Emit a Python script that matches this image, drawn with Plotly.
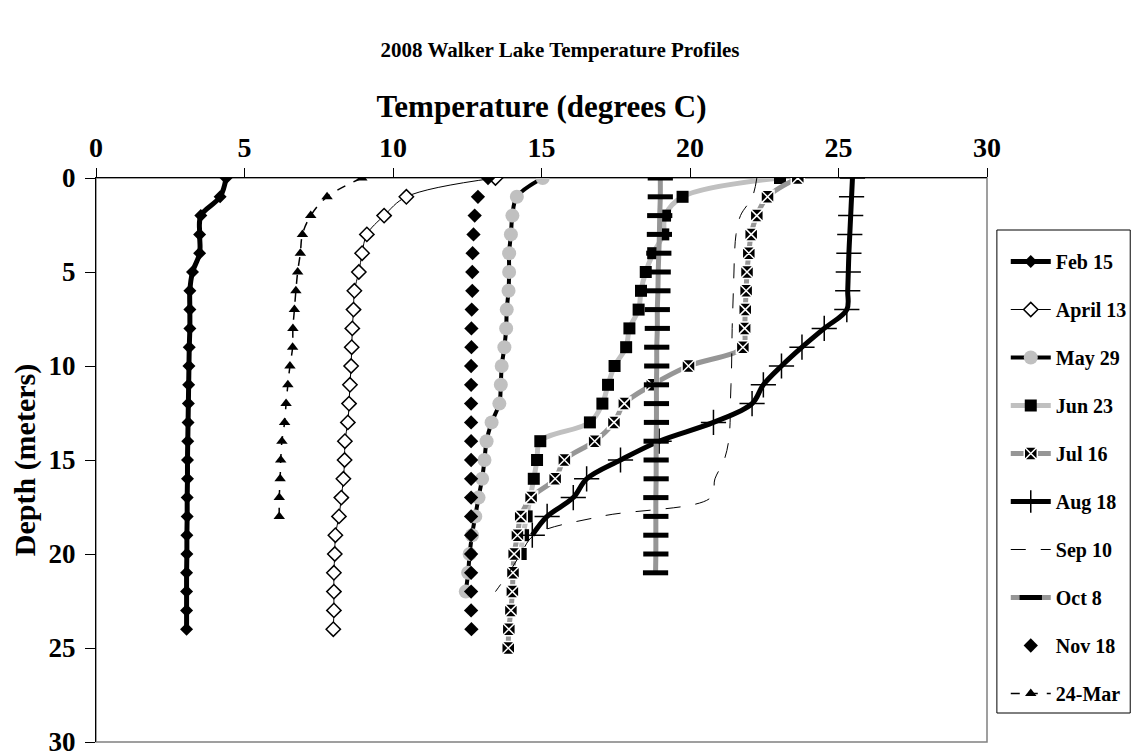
import plotly.graph_objects as go

# Depth (m) for each measurement row
DEPTHS = [0, 1, 2, 3, 4, 5, 6, 7, 8, 9, 10, 11, 12, 13, 14, 15, 16, 17, 18, 19, 20, 21, 22, 23, 24, 25]

# Temperatures (deg C) per sampling date, from surface downward
feb15 = [4.38, 4.18, 3.53, 3.49, 3.49, 3.25, 3.16, 3.16, 3.16, 3.14, 3.13, 3.12, 3.11,
         3.10, 3.09, 3.08, 3.08, 3.07, 3.07, 3.06, 3.06, 3.05, 3.05, 3.05, 3.05]
apr13 = [13.45, 10.45, 9.70, 9.12, 8.96, 8.85, 8.70, 8.67, 8.63, 8.61, 8.59, 8.55, 8.52,
         8.48, 8.38, 8.37, 8.33, 8.26, 8.18, 8.06, 8.04, 8.01, 8.01, 8.01, 7.99]
may29 = [15.04, 14.17, 14.02, 13.97, 13.91, 13.91, 13.89, 13.83, 13.81, 13.75, 13.66, 13.63,
         13.58, 13.32, 13.15, 13.08, 13.00, 12.88, 12.77, 12.66, 12.58, 12.53, 12.45]
jun23 = [23.03, 19.75, 19.16, 19.10, 18.76, 18.51, 18.35, 18.27, 17.96, 17.85, 17.46, 17.24,
         17.05, 16.63, 14.96, 14.85, 14.74, 14.62, 14.50, 14.38, 14.30]
jul16 = [23.63, 22.61, 22.25, 22.06, 21.98, 21.92, 21.89, 21.86, 21.84, 21.78, 19.95, 18.73,
         17.79, 17.44, 16.79, 15.77, 15.46, 14.65, 14.30, 14.19, 14.08, 14.04, 14.02, 13.97,
         13.90, 13.88]
aug18 = [25.47, 25.44, 25.41, 25.38, 25.35, 25.33, 25.31, 25.28, 24.52, 23.77, 23.08, 22.47,
         22.09, 20.79, 18.96, 17.66, 16.52, 16.07, 15.19, 14.69]
sep10 = [22.25, 22.10, 21.70, 21.55, 21.50, 21.48, 21.46, 21.44, 21.42, 21.41, 21.40, 21.38,
         21.36, 21.35, 21.30, 21.15, 20.84, 20.70, 17.00, 14.75, 14.30, 13.90, 13.45]
oct8 = [19.00, 19.00, 18.98, 18.97, 18.95, 18.93, 18.92, 18.90, 18.90, 18.88, 18.88, 18.87,
        18.87, 18.87, 18.86, 18.86, 18.86, 18.85, 18.85, 18.85, 18.85, 18.84]
nov18 = [13.20, 12.86, 12.75, 12.71, 12.68, 12.67, 12.67, 12.65, 12.64, 12.64, 12.63, 12.63,
         12.63, 12.63, 12.63, 12.63, 12.63, 12.63, 12.63, 12.63, 12.63, 12.63, 12.63, 12.63, 12.64]
mar24 = [8.95, 7.78, 7.23, 6.95, 6.88, 6.79, 6.73, 6.68, 6.63, 6.62, 6.53, 6.46, 6.40, 6.35,
         6.26, 6.22, 6.20, 6.17, 6.17]

FONT = "Liberation Serif, Times New Roman, serif"
LIGHT = "#c0c0c0"
MID = "#969696"

# the page body adds an 8px offset, so the figure is sized to the remaining viewport
W, H = 1136, 748
PLOT_L, PLOT_R, PLOT_T, PLOT_B = 88, 990, 170, 734
plot_h = PLOT_B - PLOT_T
plot_w = PLOT_R - PLOT_L


def px(xp):
    return (xp - PLOT_L) / plot_w


def py(yp):
    return (PLOT_B - yp) / plot_h


fig = go.Figure()


def add(name, temps, mode, line=None, marker=None, shape="spline"):
    kw = dict(x=temps, y=DEPTHS[:len(temps)], name=name, mode=mode, legendgroup=name)
    if line is not None:
        line = dict(line, shape=shape)
        kw["line"] = line
    if marker is not None:
        kw["marker"] = marker
    fig.add_trace(go.Scatter(**kw))


add("Feb 15", feb15, "lines+markers",
    line=dict(color="black", width=5),
    marker=dict(symbol="diamond", size=10, color="black"))
add("April 13", apr13, "lines+markers",
    line=dict(color="black", width=1),
    marker=dict(symbol="diamond", size=11, color="white", line=dict(color="black", width=1.5)))
add("May 29", may29, "lines+markers",
    line=dict(color="black", width=4),
    marker=dict(symbol="circle", size=14, color=LIGHT))
add("Jun 23", jun23, "lines+markers",
    line=dict(color=LIGHT, width=5),
    marker=dict(symbol="square", size=12, color="black"))
add("Jul 16", jul16, "lines+markers",
    line=dict(color=MID, width=5),
    marker=dict(symbol="square-x", size=13, color="black", line=dict(color="white", width=1.5)))
add("Aug 18", aug18, "lines+markers",
    line=dict(color="black", width=5),
    marker=dict(symbol="cross-thin", size=18, color="black", line=dict(color="black", width=1.5)))
add("Sep 10", sep10, "lines",
    line=dict(color="black", width=1, dash="longdash"))
add("Oct 8", oct8, "lines+markers",
    line=dict(color=MID, width=5),
    marker=dict(symbol="line-ew", size=18, color="black", line=dict(color="black", width=5)))
add("Nov 18", nov18, "markers",
    marker=dict(symbol="diamond", size=11, color="black"))
add("24-Mar", mar24, "lines+markers",
    line=dict(color="black", width=1.5, dash="dash"),
    marker=dict(symbol="triangle-up", size=10, color="black"))

fig.update_layout(
    width=W, height=H,
    margin=dict(l=PLOT_L, r=W - PLOT_R, t=PLOT_T, b=H - PLOT_B, pad=0),
    paper_bgcolor="white", plot_bgcolor="white",
    font=dict(family=FONT, size=20, color="black", weight="bold"),
    title=dict(text="2008 Walker Lake Temperature Profiles", x=552 / W, xanchor="center",
               y=1 - 42 / H, yanchor="middle", yref="container",
               font=dict(family=FONT, size=21, weight="bold")),
    showlegend=True,
    legend=dict(x=px(1009), xanchor="left", y=py(234), yanchor="top",
                borderwidth=0, bgcolor="rgba(0,0,0,0)",
                font=dict(family=FONT, size=20, weight="bold"),
                traceorder="grouped", tracegroupgap=19, itemwidth=40),
    xaxis=dict(side="top", range=[0, 30], tick0=0, dtick=5, ticks="outside", ticklen=9,
               tickcolor="black", showline=True, linecolor="black", linewidth=1,
               showgrid=False, zeroline=False, automargin=False,
               tickfont=dict(family=FONT, size=28, weight="bold"),
               title=dict(text="Temperature (degrees C)", standoff=4,
                          font=dict(family=FONT, size=31, weight="bold"))),
    yaxis=dict(range=[30, 0], tick0=0, dtick=5, ticks="outside", ticklen=10,
               tickcolor="black", showline=True, linecolor="black", linewidth=1,
               showgrid=False, zeroline=False, automargin=False,
               ticklabeloverflow="allow", ticklabelstandoff=4,
               tickfont=dict(family=FONT, size=27, weight="bold"),
               title=dict(text="Depth (meters)", standoff=4,
                          font=dict(family=FONT, size=30, weight="bold"))),
    shapes=[
        dict(type="rect", xref="paper", yref="paper", x0=0, x1=1, y0=0, y1=1,
             line=dict(color="#808080", width=1.5), layer="below"),
        dict(type="rect", xref="paper", yref="paper", x0=px(1000), x1=px(1135),
             y0=py(705), y1=py(222), line=dict(color="black", width=1),
             fillcolor="white", layer="below"),
    ],
)

fig.write_html("out.html")
